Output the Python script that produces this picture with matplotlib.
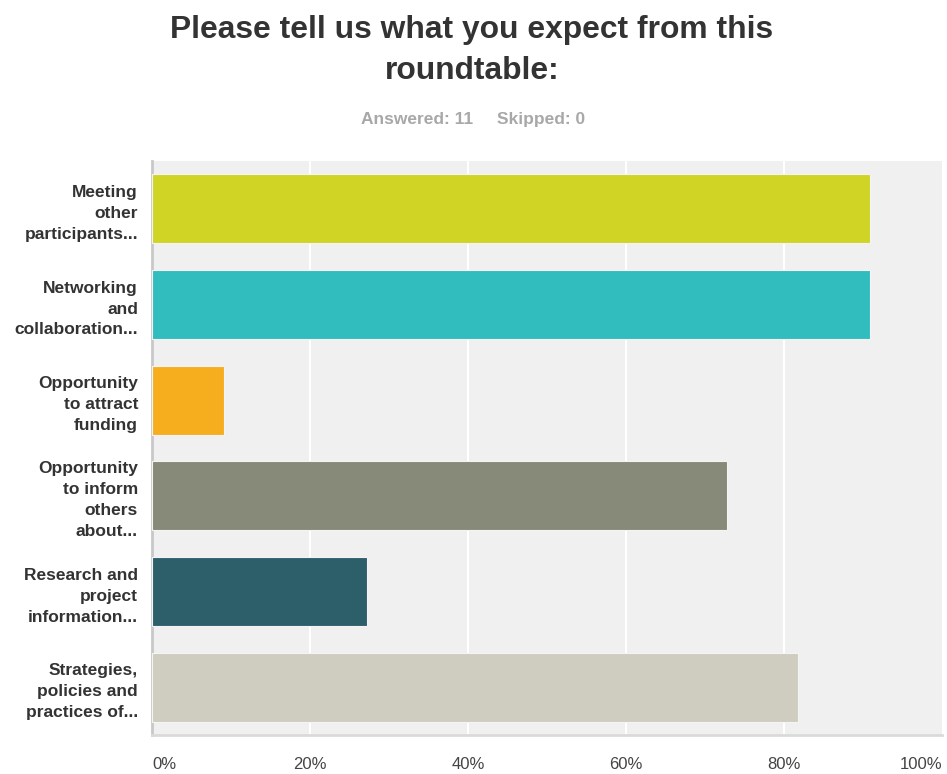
import matplotlib
matplotlib.use("Agg")
import matplotlib.pyplot as plt

categories = [
    "Meeting\nother\nparticipants...",
    "Networking\nand\ncollaboration...",
    "Opportunity\nto attract\nfunding",
    "Opportunity\nto inform\nothers\nabout...",
    "Research and\nproject\ninformation...",
    "Strategies,\npolicies and\npractices of...",
]
values = [90.91, 90.91, 9.09, 72.73, 27.27, 81.82]
colors = ["#cfd425", "#31bcbe", "#f6ae1e", "#878a79", "#2d5f6b", "#cfcdbf"]
xticks = [0, 20, 40, 60, 80, 100]
xtick_labels = ["0%", "20%", "40%", "60%", "80%", "100%"]

plt.rcParams['font.family'] = ['Liberation Sans', 'DejaVu Sans']

fig = plt.figure(figsize=(9.47, 7.74), dpi=100)
ax = fig.add_axes([152/947, 39/774, 790/947, 574/774])
ax.set_facecolor("#f0f0f0")

ypos = list(range(len(categories)))
ax.barh(ypos, values, height=0.72, color=colors, edgecolor="#f4f4f4", linewidth=0.8, zorder=3)

ax.set_xlim(0, 100)
ax.set_ylim(len(categories) - 0.5, -0.5)
ax.set_xticks(xticks)
for x in xticks[1:-1]:
    ax.axvline(x, color="white", linewidth=1.5, zorder=1)

ax.set_xticklabels(xtick_labels, fontsize=12, color="#444444")
labs = ax.get_xticklabels()
labs[0].set_horizontalalignment("left")
labs[-1].set_horizontalalignment("right")
ax.tick_params(axis="x", length=0, pad=16)

ax.set_yticks(ypos)
ax.set_yticklabels(categories, fontsize=12.5, fontweight="bold", color="#333333",
                   linespacing=1.5)
ax.tick_params(axis="y", length=0, pad=10)

for s in ["top", "right"]:
    ax.spines[s].set_visible(False)
ax.spines["left"].set_color("#c8c8c8")
ax.spines["left"].set_linewidth(2)
ax.spines["bottom"].set_color("#dadada")
ax.spines["bottom"].set_linewidth(2)

fig.text(472/947, 1 - 30/774, "Please tell us what you expect from this",
         ha="center", va="center", fontsize=22.9, fontweight="bold", color="#333333")
fig.text(472/947, 1 - 71/774, "roundtable:",
         ha="center", va="center", fontsize=22.9, fontweight="bold", color="#333333")
fig.text(473/947, 1 - 124/774, "Answered: 11",
         ha="right", va="baseline", fontsize=12.5, fontweight="bold", color="#a8a8a8")
fig.text(497/947, 1 - 124/774, "Skipped: 0",
         ha="left", va="baseline", fontsize=12.5, fontweight="bold", color="#a8a8a8")

fig.savefig("out.png", dpi=100, facecolor="white")
